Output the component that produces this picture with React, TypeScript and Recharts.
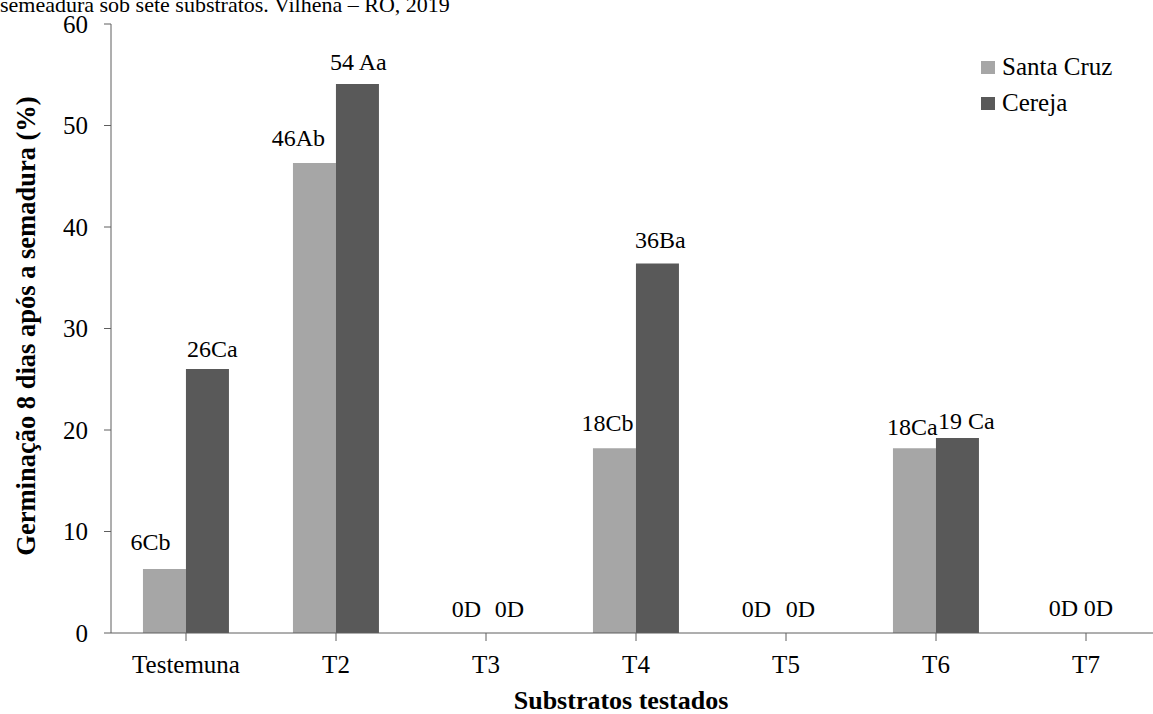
import React from "react";
import { Bar, BarChart, Label, LabelList, XAxis, YAxis } from "recharts";

const substratos = ["Testemuna", "T2", "T3", "T4", "T5", "T6", "T7"];
const santaCruz = [6.3, 46.3, 0, 18.2, 0, 18.2, 0];
const cereja = [26.0, 54.1, 0, 36.4, 0, 19.2, 0];
const santaCruzLetras = ["6Cb", "46Ab", "0D", "18Cb", "0D", "18Ca", "0D"];
const cerejaLetras = ["26Ca", "54 Aa", "0D", "36Ba", "0D", "19 Ca", "0D"];
const yTicks = [0, 10, 20, 30, 40, 50, 60];

// label nudges (dx, gap above bar) as placed by hand in the original
const santaCruzNudge = [
  [-14, 19], [-16, 17], [2, 16], [-7, 17], [-8, 16], [-2, 13], [-1, 17],
];
const cerejaNudge = [
  [5, 12], [1, 14], [2, 16], [3, 16], [-7, 16], [9, 9], [-9, 17],
];

const data = substratos.map((s, i) => ({
  substrato: s,
  santaCruz: santaCruz[i],
  cereja: cereja[i],
}));

const FONT = "Liberation Serif, Times New Roman, serif";
const LIGHT = "#A6A6A6";
const DARK = "#595959";
const AXIS = "#5f5f5f";

function makeLabel(letras: string[], nudge: number[][]) {
  return (props: any) => {
    const { x, y, width, value } = props;
    const i = substratos.indexOf(String(value));
    if (i < 0) return null;
    const [dx, gap] = nudge[i];
    return (
      <text
        x={Number(x) + Number(width) / 2 + dx}
        y={Number(y) - gap}
        textAnchor="middle"
        fontFamily={FONT}
        fontSize={24}
        fill="#000"
      >
        {letras[i]}
      </text>
    );
  };
}

function LegendBox() {
  const items = [
    { name: "Santa Cruz", color: LIGHT },
    { name: "Cereja", color: DARK },
  ];
  return (
    <div
      style={{
        position: "absolute",
        left: 981,
        top: 49,
        fontFamily: FONT,
        fontSize: 25,
        color: "#000",
      }}
    >
      {items.map((it) => (
        <div
          key={it.name}
          style={{ display: "flex", alignItems: "center", height: 36 }}
        >
          <span
            style={{
              display: "inline-block",
              width: 14,
              height: 13,
              background: it.color,
              marginRight: 7,
            }}
          />
          <span>{it.name}</span>
        </div>
      ))}
    </div>
  );
}

export default function App() {
  return (
    <div
      style={{
        position: "fixed",
        left: 0,
        top: 0,
        width: 1153,
        height: 714,
        overflow: "hidden",
        background: "#fff",
      }}
    >
      <div
        style={{
          position: "absolute",
          left: 0,
          top: -6,
          fontFamily: FONT,
          fontSize: 22,
          lineHeight: 1,
          whiteSpace: "nowrap",
          color: "#000",
        }}
      >
        semeadura sob sete substratos. Vilhena – RO, 2019
      </div>
      <BarChart
        width={1170}
        height={714}
        data={data}
        margin={{ top: 24, right: 9, bottom: 0, left: 0 }}
        barCategoryGap="21.3%"
        barGap={0}
        style={{ position: "absolute", left: 0, top: 0 }}
      >
        <XAxis
          dataKey="substrato"
          height={81}
          stroke={AXIS}
          tickSize={8}
          tickMargin={14}
          tick={{ fontFamily: FONT, fontSize: 25, fill: "#000" }}
          interval={0}
        >
          <Label
            content={(p: any) => {
              const vb = p.viewBox || {};
              return (
                <text
                  x={621}
                  y={Number(vb.y) + 76}
                  textAnchor="middle"
                  fontFamily={FONT}
                  fontWeight="bold"
                  fontSize={26}
                  fill="#000"
                >
                  Substratos testados
                </text>
              );
            }}
          />
        </XAxis>
        <YAxis
          width={111}
          domain={[0, 60]}
          ticks={yTicks}
          stroke={AXIS}
          tickSize={7}
          tickMargin={16}
          tick={{ fontFamily: FONT, fontSize: 25, fill: "#000" }}
          allowDataOverflow
        >
          <Label
            content={() => (
              <text
                x={0}
                y={0}
                transform="translate(35 326) rotate(-90)"
                textAnchor="middle"
                fontFamily={FONT}
                fontWeight="bold"
                fontSize={26.5}
                fill="#000"
              >
                Germinação 8 dias após a semadura (%)
              </text>
            )}
          />
        </YAxis>
        <Bar
          dataKey="santaCruz"
          name="Santa Cruz"
          fill={LIGHT}
          minPointSize={0.01}
          isAnimationActive={false}
        >
          <LabelList
            dataKey="substrato"
            content={makeLabel(santaCruzLetras, santaCruzNudge)}
          />
        </Bar>
        <Bar
          dataKey="cereja"
          name="Cereja"
          fill={DARK}
          minPointSize={0.01}
          isAnimationActive={false}
        >
          <LabelList
            dataKey="substrato"
            content={makeLabel(cerejaLetras, cerejaNudge)}
          />
        </Bar>
      </BarChart>
      <LegendBox />
    </div>
  );
}
